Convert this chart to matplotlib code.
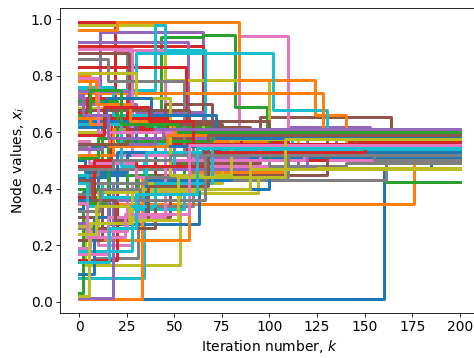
import matplotlib
matplotlib.use("Agg")
import matplotlib.pyplot as plt

n_iter = 200

# change points (iteration) and node values after each change, one list per node
# listed in blocks of ten so the default colour cycle lands on the right colours
node_k = [
    [0, 160, 185], [0, 176], [0, 12, 50, 161], [0, 19, 45, 90, 150], [0, 11, 65, 110, 153],
    [0, 30, 95, 164], [0, 40, 84, 110, 150], [0, 8, 31, 70, 161], [0, 3, 53, 94, 130], [0, 34, 80, 140],

    [0, 16, 63, 100, 130], [0, 33, 70, 120, 170], [0, 43, 65, 82, 99, 140], [0, 65, 110, 145], [0, 57, 90, 135],
    [0, 12, 40, 120], [0, 20, 45, 100, 160], [0, 25, 60, 120], [0, 45, 100, 112], [0, 40, 45, 66, 105],

    [0, 10, 50, 120], [0, 20, 84, 124, 140], [0, 61, 90, 125], [0, 56, 100, 140], [0, 8, 30, 70, 115],
    [0, 5, 26, 60, 110], [0, 10, 28, 55, 130], [0, 50, 100, 140], [0, 22, 75, 140], [0, 30, 102, 130, 150],

    [0, 3, 25, 70, 150], [0, 8, 58, 110], [0, 2, 30, 80, 130], [0, 20, 40, 100, 165], [0, 18, 50, 110],
    [0, 12, 48, 95, 145], [0, 6, 25, 60, 105], [0, 28, 60, 137], [0, 56, 75, 90, 115], [0, 28, 55, 100],

    [0, 5, 40, 90], [0, 128], [0, 15, 35, 85], [0, 5, 22, 72, 125], [0, 30, 65, 100],
    [0, 45, 70, 90], [0, 28, 55, 118], [0, 10, 45, 80, 155], [0, 15, 65, 150], [0, 18, 40, 85, 112],

    [0, 2, 20, 110], [0, 22, 55, 100], [0, 25, 55, 100], [0, 17, 47, 95, 130], [0, 26, 60, 120],
    [0, 8, 40, 130], [0, 5, 30, 68, 120], [0, 15, 55, 90], [0, 10, 62, 125], [0, 12, 35, 75, 138],

    [0, 8, 35, 80], [0, 18, 70, 130], [0, 20, 70], [0, 4, 25, 85], [0, 15, 45, 120],
    [0, 20, 58, 100], [0, 15, 45, 95], [0, 5, 35, 110], [0, 30, 48, 80], [0, 22, 50, 120],

    [0, 30, 65], [0, 6, 16, 46], [0, 10, 40], [0, 8, 30, 66, 150], [0, 12, 40],
    [0, 25, 75], [0, 10, 60, 140], [0, 18, 48], [0, 5, 28, 90], [0, 4, 40, 70],

    [0, 14, 38, 72], [0, 9, 27, 50, 100], [0, 6, 22, 52], [0, 13, 37, 60], [0, 2, 15, 44],
    [0, 7, 19, 36, 68], [0, 4, 24, 58], [0, 11, 32, 66], [0, 9, 26, 52, 108], [0, 16, 30, 62],
]
node_v = [
    [0.01, 0.47, 0.52], [0.345, 0.53], [0.62, 0.50, 0.47, 0.425], [0.99, 0.62, 0.57, 0.56, 0.565], [0.72, 0.955, 0.61, 0.617, 0.61],
    [0.66, 0.60, 0.655, 0.59], [0.52, 0.60, 0.94, 0.555, 0.555], [0.24, 0.155, 0.45, 0.43, 0.52], [0.30, 0.13, 0.386, 0.47, 0.475], [0.085, 0.50, 0.53, 0.545],

    [0.44, 0.276, 0.40, 0.53, 0.53], [0.01, 0.44, 0.50, 0.51, 0.52], [0.60, 0.935, 0.945, 0.69, 0.59, 0.597], [0.905, 0.57, 0.54, 0.56], [0.92, 0.51, 0.54, 0.59],
    [0.22, 0.42, 0.50, 0.51], [0.88, 0.89, 0.48, 0.50, 0.54], [0.88, 0.60, 0.52, 0.53], [0.98, 0.785, 0.60, 0.58], [0.75, 0.98, 0.89, 0.50, 0.53],

    [0.36, 0.45, 0.50, 0.52], [0.96, 0.99, 0.785, 0.66, 0.55], [0.635, 0.58, 0.60, 0.595], [0.83, 0.52, 0.55, 0.57], [0.47, 0.42, 0.48, 0.47, 0.55],
    [0.88, 0.88, 0.58, 0.55, 0.56], [0.27, 0.20, 0.42, 0.48, 0.55], [0.55, 0.50, 0.48, 0.49], [0.685, 0.55, 0.56, 0.58], [0.74, 0.88, 0.677, 0.56, 0.545],

    [0.50, 0.46, 0.52, 0.54, 0.53], [0.30, 0.22, 0.46, 0.50], [0.03, 0.37, 0.45, 0.52, 0.60], [0.15, 0.40, 0.55, 0.50, 0.56], [0.015, 0.42, 0.47, 0.55],
    [0.22, 0.30, 0.49, 0.55, 0.59], [0.19, 0.25, 0.45, 0.53, 0.555], [0.26, 0.34, 0.50, 0.53], [0.42, 0.42, 0.47, 0.50, 0.575], [0.18, 0.33, 0.50, 0.54],

    [0.57, 0.55, 0.50, 0.51], [0.74, 0.58], [0.35, 0.55, 0.62, 0.60], [0.76, 0.70, 0.57, 0.53, 0.56], [0.70, 0.67, 0.50, 0.61],
    [0.65, 0.70, 0.62, 0.59], [0.895, 0.52, 0.555, 0.50], [0.45, 0.47, 0.50, 0.52, 0.50], [0.60, 0.63, 0.58, 0.59], [0.76, 0.66, 0.56, 0.545, 0.60],

    [0.33, 0.39, 0.53, 0.528], [0.65, 0.60, 0.57, 0.59], [0.40, 0.45, 0.50, 0.60], [0.48, 0.65, 0.56, 0.50, 0.56], [0.745, 0.60, 0.58, 0.61],
    [0.30, 0.26, 0.45, 0.59], [0.57, 0.49, 0.44, 0.50, 0.555], [0.86, 0.78, 0.53, 0.52], [0.27, 0.39, 0.47, 0.475], [0.42, 0.37, 0.53, 0.54, 0.52],

    [0.10, 0.30, 0.43, 0.53], [0.52, 0.61, 0.59, 0.58], [0.71, 0.57, 0.595], [0.67, 0.72, 0.61, 0.56], [0.28, 0.36, 0.47, 0.61],
    [0.68, 0.68, 0.64, 0.59], [0.17, 0.30, 0.50, 0.55], [0.38, 0.42, 0.44, 0.52], [0.81, 0.72, 0.45, 0.575], [0.63, 0.48, 0.53, 0.545],

    [0.64, 0.55, 0.53], [0.80, 0.63, 0.55, 0.59], [0.51, 0.58, 0.60], [0.37, 0.50, 0.48, 0.53, 0.56], [0.54, 0.56, 0.61],
    [0.56, 0.63, 0.59], [0.79, 0.60, 0.56, 0.555], [0.47, 0.50, 0.52], [0.02, 0.28, 0.40, 0.47], [0.45, 0.34, 0.42, 0.545],

    [0.62, 0.72, 0.66, 0.58], [0.78, 0.70, 0.64, 0.60, 0.59], [0.66, 0.75, 0.63, 0.60], [0.59, 0.69, 0.64, 0.56], [0.73, 0.66, 0.58, 0.61],
    [0.43, 0.36, 0.29, 0.41, 0.59], [0.35, 0.23, 0.31, 0.555], [0.32, 0.40, 0.36, 0.52], [0.24, 0.34, 0.29, 0.44, 0.575], [0.14, 0.26, 0.38, 0.545],
]

plt.rcParams["font.size"] = 13.5

fig = plt.figure(figsize=(6.4, 4.825), dpi=74.2)
ax = fig.add_axes([0.1263, 0.1257, 0.882, 0.852])

for ks, vs in zip(node_k, node_v):
    ax.step(ks + [n_iter], vs + [vs[-1]], where="post", linewidth=2.9)

ax.set_xticks(range(0, 201, 25))
ax.set_yticks([0.0, 0.2, 0.4, 0.6, 0.8, 1.0])
ax.set_xlabel("Iteration number, $k$")
ax.set_ylabel("Node values, $x_i$")

fig.savefig("out.png", dpi=74.2)
